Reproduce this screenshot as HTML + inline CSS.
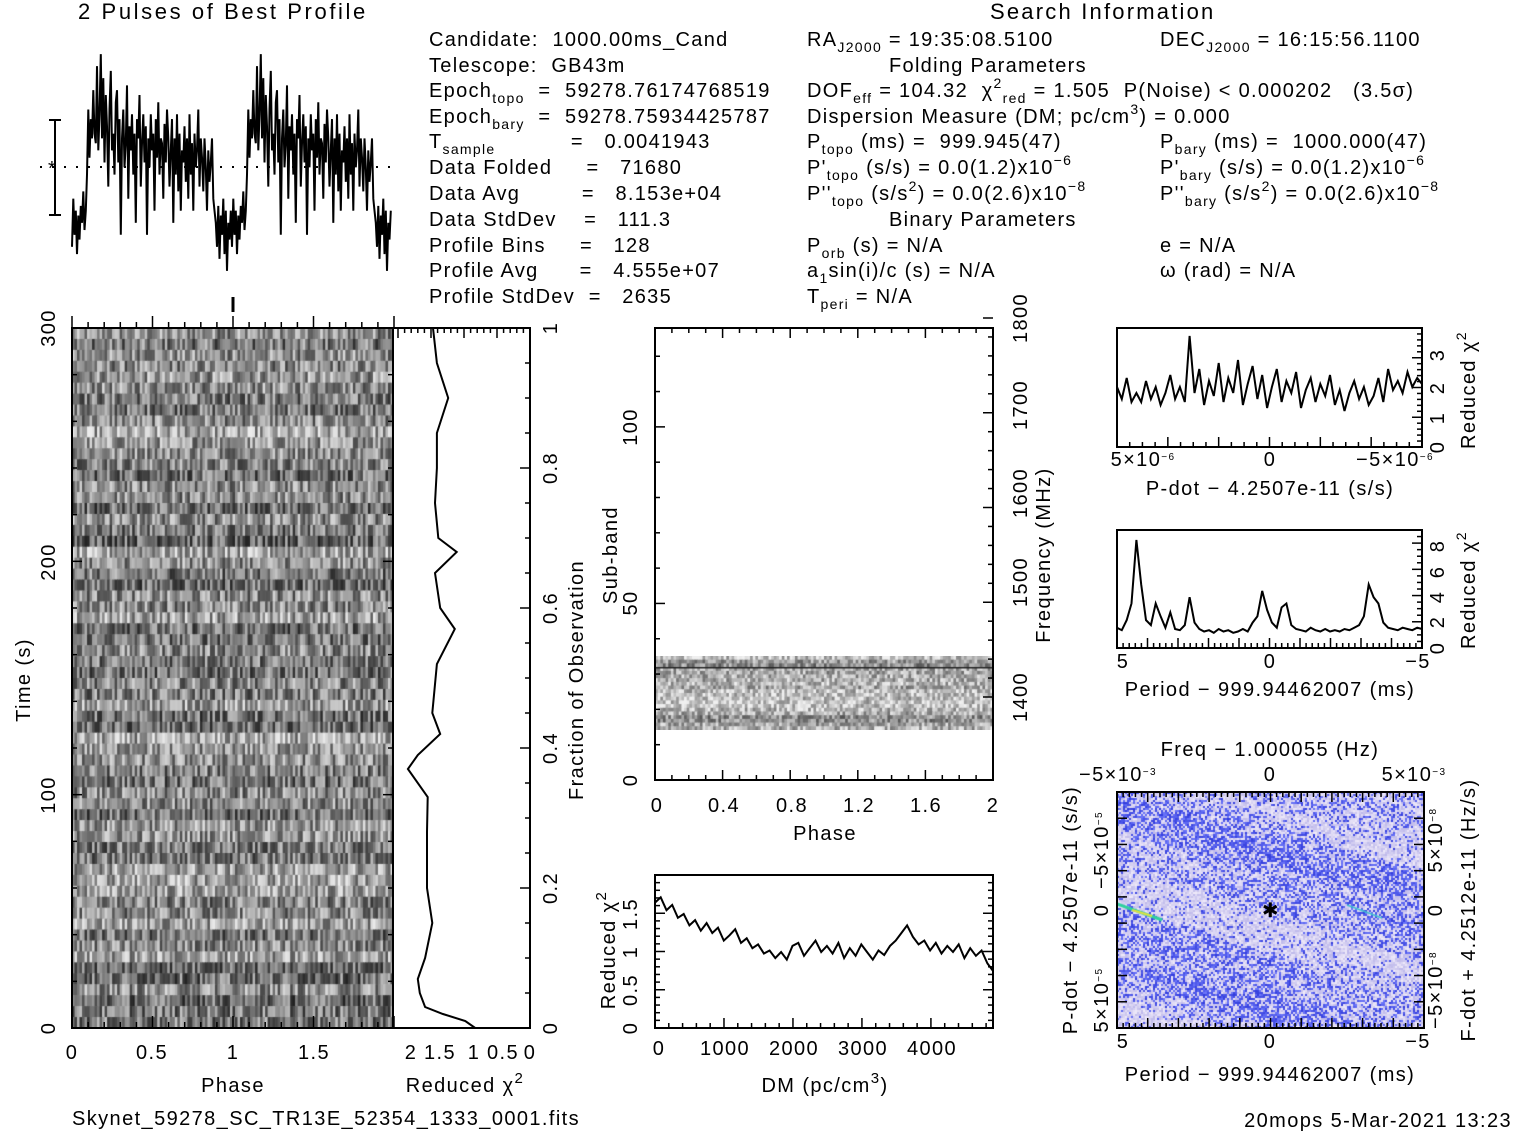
<!DOCTYPE html>
<html><head><meta charset="utf-8">
<style>
body{margin:0;background:#fff;}
#root{position:relative;width:1517px;height:1133px;overflow:hidden;background:#fff;font-family:"Liberation Sans",sans-serif;color:#000;}
.t{position:absolute;white-space:pre;font-size:20px;line-height:20px;letter-spacing:1.3px;}
.t sub{font-size:14px;vertical-align:-6px;line-height:0}
.t sup{font-size:14px;vertical-align:9px;line-height:0}
canvas{position:absolute;}
svg{position:absolute;left:0;top:0;}
svg text{font-family:"Liberation Sans",sans-serif;font-size:20px;letter-spacing:1.4px;}
</style></head><body>
<div id="root">
<canvas id="tp" width="321" height="700" style="left:72px;top:328px"></canvas>
<canvas id="sb" width="338" height="74" style="left:655px;top:656px"></canvas>
<canvas id="pp" width="307" height="236" style="left:1117px;top:792px"></canvas>

<div class="t" style="left:78px;top:2px;font-size:22px;letter-spacing:2.6px">2 Pulses of Best Profile</div>
<div class="t" style="left:990px;top:2px;font-size:22px;letter-spacing:2.2px">Search Information</div>

<div>
<div class="t" style="left:429px;top:30px">Candidate:  1000.00ms_Cand</div>
<div class="t" style="left:429px;top:56px">Telescope:  GB43m</div>
<div class="t" style="left:429px;top:81px">Epoch<sub>topo</sub>  =  59278.76174768519</div>
<div class="t" style="left:429px;top:107px">Epoch<sub>bary</sub>  =  59278.75934425787</div>
<div class="t" style="left:429px;top:132px">T<sub>sample</sub>           =   0.0041943</div>
<div class="t" style="left:429px;top:158px">Data Folded     =   71680</div>
<div class="t" style="left:429px;top:184px">Data Avg         =   8.153e+04</div>
<div class="t" style="left:429px;top:210px">Data StdDev    =   111.3</div>
<div class="t" style="left:429px;top:236px">Profile Bins     =   128</div>
<div class="t" style="left:429px;top:261px">Profile Avg      =   4.555e+07</div>
<div class="t" style="left:429px;top:287px">Profile StdDev  =   2635</div>
</div>
<div>
<div class="t" style="left:807px;top:30px">RA<sub>J2000</sub> = 19:35:08.5100</div>
<div class="t" style="left:1160px;top:30px">DEC<sub>J2000</sub> = 16:15:56.1100</div>
<div class="t" style="left:889px;top:56px">Folding Parameters</div>
<div class="t" style="left:807px;top:81px">DOF<sub>eff</sub> = 104.32  χ<sup>2</sup><sub>red</sub> = 1.505  P(Noise) &lt; 0.000202   (3.5σ)</div>
<div class="t" style="left:807px;top:107px">Dispersion Measure (DM; pc/cm<sup>3</sup>) = 0.000</div>
<div class="t" style="left:807px;top:132px">P<sub>topo</sub> (ms) =  999.945(47)</div>
<div class="t" style="left:1160px;top:132px">P<sub>bary</sub> (ms) =  1000.000(47)</div>
<div class="t" style="left:807px;top:158px">P'<sub>topo</sub> (s/s) = 0.0(1.2)x10<sup>−6</sup></div>
<div class="t" style="left:1160px;top:158px">P'<sub>bary</sub> (s/s) = 0.0(1.2)x10<sup>−6</sup></div>
<div class="t" style="left:807px;top:184px">P''<sub>topo</sub> (s/s<sup>2</sup>) = 0.0(2.6)x10<sup>−8</sup></div>
<div class="t" style="left:1160px;top:184px">P''<sub>bary</sub> (s/s<sup>2</sup>) = 0.0(2.6)x10<sup>−8</sup></div>
<div class="t" style="left:889px;top:210px">Binary Parameters</div>
<div class="t" style="left:807px;top:236px">P<sub>orb</sub> (s) = N/A</div>
<div class="t" style="left:1160px;top:236px">e = N/A</div>
<div class="t" style="left:807px;top:261px">a<sub>1</sub>sin(i)/c (s) = N/A</div>
<div class="t" style="left:1160px;top:261px">ω (rad) = N/A</div>
<div class="t" style="left:807px;top:287px">T<sub>peri</sub> = N/A</div>
</div>

<svg id="sv" width="1517" height="1133">
<g fill="none" stroke="#000" stroke-width="2">
<rect x="72" y="328" width="321" height="700"/>
<rect x="393" y="328" width="137" height="700"/>
<rect x="655" y="328" width="338" height="452"/>
<rect x="655" y="875" width="338" height="153"/>
<rect x="1117" y="328" width="305" height="119"/>
<rect x="1117" y="530" width="305" height="118"/>
<rect x="1117" y="792" width="307" height="236"/>
</g>
<g id="ticks" stroke="#000" stroke-width="1.5"></g>
<g id="lines" fill="none" stroke="#000" stroke-width="2"></g>
<g stroke="#000" stroke-width="2">
<line x1="55" y1="120" x2="55" y2="215"/><line x1="49" y1="120" x2="61" y2="120"/><line x1="49" y1="215" x2="61" y2="215"/>
<line x1="40" y1="167" x2="392" y2="167" stroke-dasharray="2,10" stroke-width="2"/>
<text x="48" y="175" stroke="none" font-size="18">*</text>
<line x1="233" y1="297" x2="233" y2="312" stroke-width="3"/>
</g>
<g id="labels" stroke="none" fill="#000">
<text x="233" y="1092" text-anchor="middle" font-size="21">Phase</text>
<text x="465" y="1092" text-anchor="middle" font-size="21">Reduced χ<tspan font-size="15" dy="-9">2</tspan></text>
<text transform="rotate(-90 30 680)" x="30" y="680" text-anchor="middle" font-size="22">Time (s)</text>
<text transform="rotate(-90 583 680)" x="583" y="680" text-anchor="middle" font-size="21">Fraction of Observation</text>
<text transform="rotate(-90 617 555)" x="617" y="555" text-anchor="middle" font-size="21">Sub-band</text>
<text transform="rotate(-90 1050 555)" x="1050" y="555" text-anchor="middle" font-size="21">Frequency (MHz)</text>
<text x="825" y="840" text-anchor="middle" font-size="21">Phase</text>
<text x="825" y="1092" text-anchor="middle" font-size="21">DM (pc/cm<tspan font-size="15" dy="-9">3</tspan><tspan dy="9">)</tspan></text>
<text transform="rotate(-90 615 950)" x="615" y="950" text-anchor="middle" font-size="21">Reduced χ<tspan font-size="15" dy="-9">2</tspan></text>
<text x="1270" y="495" text-anchor="middle" font-size="20">P-dot − 4.2507e-11 (s/s)</text>
<text transform="rotate(-90 1475 390)" x="1475" y="390" text-anchor="middle" font-size="20">Reduced χ<tspan font-size="14" dy="-9">2</tspan></text>
<text x="1270" y="696" text-anchor="middle" font-size="20">Period − 999.94462007 (ms)</text>
<text transform="rotate(-90 1475 590)" x="1475" y="590" text-anchor="middle" font-size="20">Reduced χ<tspan font-size="14" dy="-9">2</tspan></text>
<text x="1270" y="756" text-anchor="middle" font-size="20">Freq − 1.000055 (Hz)</text>
<text x="1270" y="1081" text-anchor="middle" font-size="20">Period − 999.94462007 (ms)</text>
<text transform="rotate(-90 1077 910)" x="1077" y="910" text-anchor="middle" font-size="20">P-dot − 4.2507e-11 (s/s)</text>
<text transform="rotate(-90 1475 910)" x="1475" y="910" text-anchor="middle" font-size="20">F-dot + 4.2512e-11 (Hz/s)</text>
<text x="72" y="1125" font-size="21">Skynet_59278_SC_TR13E_52354_1333_0001.fits</text>
<text x="1512" y="1127" text-anchor="end" font-size="16">20mops   5-Mar-2021 13:23</text>
</g>
</svg>
</div>
<script>
// ---------- data ----------
const profileVals=[0.15,0.35,0.2,0.3,0.12,0.28,0.18,0.32,0.25,0.38,0.22,0.3,0.45,0.72,0.52,0.68,0.6,0.8,0.62,0.58,0.9,0.55,0.7,0.95,0.6,0.85,0.5,0.78,0.65,0.4,0.72,0.88,0.55,0.62,0.45,0.75,0.8,0.5,0.68,0.2,0.6,0.72,0.48,0.58,0.82,0.35,0.65,0.55,0.7,0.45,0.62,0.25,0.68,0.6,0.78,0.4,0.58,0.7,0.5,0.65,0.2,0.6,0.48,0.7,
0.55,0.62,0.3,0.68,0.52,0.75,0.45,0.6,0.58,0.35,0.66,0.5,0.72,0.6,0.4,0.55,0.68,0.25,0.6,0.45,0.7,0.38,0.62,0.3,0.55,0.5,0.65,0.42,0.6,0.35,0.7,0.45,0.58,0.3,0.62,0.48,0.55,0.72,0.4,0.6,0.52,0.38,0.6,0.48,0.3,0.55,0.42,0.5,0.6,0.35,0.3,0.25,0.15,0.32,0.1,0.28,0.2,0.35,0.12,0.3,0.05,0.25,0.18,0.3];
const timeFrac=[1,0.95,0.9,0.85,0.8,0.75,0.7,0.68,0.65,0.6,0.57,0.52,0.45,0.42,0.39,0.37,0.33,0.28,0.2,0.15,0.1,0.07,0.05,0.03,0.02,0.01,0];
const timeChi2=[1.47,1.41,1.24,1.41,1.41,1.44,1.39,1.11,1.44,1.36,1.14,1.41,1.48,1.36,1.7,1.85,1.55,1.56,1.56,1.48,1.59,1.7,1.67,1.59,1.32,0.98,0.83];
const dmVals=[1.65,1.72,1.55,1.62,1.45,1.5,1.35,1.42,1.28,1.38,1.25,1.32,1.15,1.22,1.3,1.12,1.18,1.05,1.1,0.98,1.02,0.92,1.0,0.9,1.08,1.12,0.95,1.05,1.15,1.0,1.08,0.98,1.12,0.92,1.05,0.95,1.1,1.0,0.9,1.02,0.96,1.08,1.15,1.25,1.35,1.2,1.1,1.15,1.02,1.12,0.98,1.08,1.0,1.1,0.92,1.05,0.95,1.02,0.85,0.75];
const pdotVals=[2.0,1.6,2.3,1.5,1.8,1.5,2.2,1.6,2.0,1.4,1.8,2.4,1.6,2.0,1.5,3.7,1.8,2.6,1.4,2.2,1.7,2.8,1.5,2.3,1.8,2.9,1.4,2.1,2.7,1.6,2.4,1.3,2.0,2.6,1.5,2.2,1.8,2.5,1.3,1.9,2.3,1.5,2.1,1.7,2.4,1.4,1.9,1.2,1.8,2.2,1.6,2.0,1.4,1.7,2.3,1.5,2.6,1.9,2.2,1.8,2.5,2.0,2.3,2.1];
const periodVals=[1.6,1.4,2.2,3.5,8.5,5.0,2.2,1.8,3.5,2.5,1.6,2.8,1.5,1.4,1.8,4.0,2.0,1.5,1.3,1.4,1.2,1.5,1.3,1.4,1.2,1.3,1.5,1.3,2.0,2.5,4.5,3.0,2.0,1.6,3.2,3.5,1.8,1.5,1.4,1.3,1.6,1.4,1.3,1.5,1.3,1.4,1.3,1.5,1.4,1.6,1.8,2.5,5.0,4.0,3.5,2.0,1.6,1.5,1.4,1.6,1.5,1.4,1.6,1.5];
// ---------- helpers ----------
const NS="http://www.w3.org/2000/svg";
const T=document.getElementById('ticks'),L=document.getElementById('lines'),LB=document.getElementById('labels');
function ln(x1,y1,x2,y2){const e=document.createElementNS(NS,'line');e.setAttribute('x1',x1);e.setAttribute('y1',y1);e.setAttribute('x2',x2);e.setAttribute('y2',y2);


T.appendChild(e);}
function tx(x,y,s,rot,anchor,fs){const e=document.createElementNS(NS,'text');e.setAttribute('x',x);e.setAttribute('y',y);e.setAttribute('text-anchor',anchor||'middle');e.setAttribute('font-size',fs||20);if(rot)e.setAttribute('transform','rotate(-90 '+x+' '+y+')');e.innerHTML=s;


LB.appendChild(e);}
function xt(x0,x1,y0,y1,v0,v1,step,minor,len,dir){for(let v=v0;v<=v1+1e-9;v+=step/minor){const x=x0+(v-v0)/(v1-v0)*(x1-x0);const maj=Math.abs(Math.round((v-v0)/step)*step-(v-v0))<1e-6;const l=maj?len:len/2;ln(x,y0,x,y0+dir*l);}}
function yt(x,y0,y1,v0,v1,step,minor,len,dir){for(let v=v0;v<=v1+1e-9;v+=step/minor){const y=y0-(v-v0)/(v1-v0)*(y0-y1);const maj=Math.abs(Math.round((v-v0)/step)*step-(v-v0))<1e-6;const l=maj?len:len/2;ln(x,y,x+dir*l,y);}}
function path(pts,name){const e=document.createElementNS(NS,'polyline');e.setAttribute('points',pts.map(p=>p[0].toFixed(1)+','+p[1].toFixed(1)).join(' '));


L.appendChild(e);}
// ---------- scales ----------
const profX=i=>72+i*320/256, profY=v=>283-v*241;
const chiX=c=>530-c*66, fracY=f=>1028-f*700;
const dmX=d=>655+d*0.069, dmY=c=>1028-c*76;
const pdX=i=>1117+i*305/63, pdY=c=>447-c*30;
const peX=i=>1117+i*305/63, peY=c=>648-c*12.7;
// ---------- lines ----------
let pp=[];for(let k=0;k<2;k++)for(let i=0;i<128;i++)pp.push([profX(k*128+i),profY(profileVals[i])]);path(pp,'profile-line');
path(timeFrac.map((f,i)=>[chiX(timeChi2[i]),fracY(f)]),'chi2-vs-time-line');
path(dmVals.map((c,i)=>[dmX(i*4900/(dmVals.length-1)),dmY(c)]),'chi2-vs-dm-line');
path(pdotVals.map((c,i)=>[pdX(i),pdY(c)]),'chi2-vs-pdot-line');
path(periodVals.map((c,i)=>[peX(i),peY(c)]),'chi2-vs-period-line');
// ---------- ticks ----------
xt(72,394,328,328,0,2,0.5,5,12,-1);xt(72,394,1028,1028,0,2,0.5,5,12,-1);
yt(72,1028,328,0,300,100,5,10,1);yt(393,1028,328,0,300,100,5,10,-1);
xt(398,530,328,328,0,2,0.5,5,10,1);yt(530,1028,328,0,1,0.2,4,10,-1);
yt(655,780,328,0,128,50,5,10,1);xt(655,993,780,780,0,2,0.4,4,10,-1);xt(655,993,328,328,0,2,0.4,4,10,1);
yt(993,697,318,1400,1800,100,5,10,-1);
xt(655,993,1028,1028,0,4900,1000,5,10,-1);yt(655,1028,875,0,2,0.5,5,10,1);yt(993,1028,875,0,2,0.5,5,10,-1);
yt(1422,447,328,0,4,1,5,10,-1);xt(1117,1422,447,447,0,6,1,4,10,-1);
yt(1422,648,530,0,9,2,4,10,-1);xt(1117,1422,648,648,0,10,1,5,10,-1);
xt(1117,1424,1028,1028,0,10,1,5,10,-1);xt(1117,1424,792,792,0,10,1,5,10,1);yt(1117,1028,792,0,9,1,1,10,1);yt(1424,1028,792,0,9,1,1,10,-1);
// ---------- tick labels ----------
[[0,72],[0.5,152],[1,233],[1.5,314]].forEach(a=>tx(a[1],1059,a[0],0,'middle',21));
[['2',411],['1.5',440],['1',474],['0.5',503],['0',530]].forEach(a=>tx(a[1],1059,a[0],0,'middle',21));
[[0,1028],[100,795],[200,562],[300,328]].forEach(a=>tx(55,a[1],a[0],1,'middle',22));
[['0',1028],['0.2',888],['0.4',748],['0.6',608],['0.8',468],['1',328]].forEach(a=>tx(557,a[1],a[0],1,'middle',21));
[[0,780],[50,603],[100,427]].forEach(a=>tx(637,a[1],a[0],1,'middle',21));
[[1400,697],[1500,582],[1600,493],[1700,405],[1800,318]].forEach(a=>tx(1027,a[1],a[0],1,'middle',20));
[['0',657],['0.4',724],['0.8',792],['1.2',859],['1.6',926],['2',993]].forEach(a=>tx(a[1],812,a[0],0,'middle',21));
[[0,659],[1000,725],[2000,794],[3000,863],[4000,932]].forEach(a=>tx(a[1],1055,a[0],0,'middle',20));
[['0',1028],['0.5',990],['1',952],['1.5',914]].forEach(a=>tx(637,a[1],a[0],1,'middle',20));
tx(1143,466,'5×10<tspan font-size="10" dy="-6">−6</tspan>',0,'middle',14);tx(1270,466,'0',0,'middle',14);tx(1395,466,'−5×10<tspan font-size="10" dy="-6">−6</tspan>',0,'middle',14);
[['0',447],['1',418],['2',388],['3',355]].forEach(a=>tx(1444,a[1],a[0],1,'middle',14));
[['5',1123],['0',1270],['−5',1418]].forEach(a=>tx(a[1],668,a[0],0,'middle',16));
[['0',648],['2',622],['4',597],['6',572],['8',546]].forEach(a=>tx(1444,a[1],a[0],1,'middle',14));
[['5',1123],['0',1270],['−5',1418]].forEach(a=>tx(a[1],1048,a[0],0,'middle',16));
tx(1118,781,'−5×10<tspan font-size="10" dy="-6">−3</tspan>',0,'middle',15);tx(1270,781,'0',0,'middle',15);tx(1414,781,'5×10<tspan font-size="10" dy="-6">−3</tspan>',0,'middle',15);
tx(1108,850,'−5×10<tspan font-size="10" dy="-6">−5</tspan>',1,'middle',14);tx(1108,910,'0',1,'middle',14);tx(1108,1000,'5×10<tspan font-size="10" dy="-6">−5</tspan>',1,'middle',14);
tx(1442,840,'5×10<tspan font-size="10" dy="-6">−8</tspan>',1,'middle',14);tx(1442,910,'0',1,'middle',14);tx(1442,990,'−5×10<tspan font-size="10" dy="-6">−8</tspan>',1,'middle',14);
tx(1271,917,'✱',0,'middle',16);
// ---------- images (texture) ----------
let s=12345;function rnd(){s=(s*1103515245+12345)&0x7fffffff;return s/0x7fffffff;}
(function(){const c=document.getElementById('tp').getContext('2d');const rows=64,cols=64;const row=[];
for(let r=0;r<rows;r++){const off=(rnd()-0.5)*60-10;const cells=[];for(let k=0;k<cols;k++)cells.push(145+off+(rnd()-0.5)*150);row.push(cells);}
for(let r=0;r<rows;r++)for(let k=0;k<128;k++){let g=Math.max(20,Math.min(245,row[r][k%64]|0));c.fillStyle='rgb('+g+','+g+','+g+')';c.fillRect(k*321/128,r*700/rows,321/128+0.6,700/rows+0.6);}})();
(function(){const c=document.getElementById('sb').getContext('2d');for(let r=0;r<20;r++){const off=(rnd()-0.5)*60;for(let k=0;k<128;k++){let g=Math.max(30,Math.min(240,(170+off+(rnd()-0.5)*120)|0));c.fillStyle='rgb('+g+','+g+','+g+')';c.fillRect(k*338/128,r*74/20,338/128+0.6,74/20+0.6);}}
c.fillStyle='#222';c.fillRect(0,11,338,1.5);})();
(function(){const c=document.getElementById('pp').getContext('2d');for(let y=0;y<236;y+=2)for(let x=0;x<307;x+=2){
const u=y-x*0.35;const band=0.5*Math.sin(u*0.045+1)+0.3*Math.sin(u*0.11+x*0.01)+0.2*Math.sin(u*0.23);
const p=0.34+0.32*band;let col;
if(rnd()<p){const d=rnd();col=[(50+d*60)|0,(60+d*60)|0,(220+d*30)|0];}
else{const d=rnd();col=[(190+d*50)|0,(185+d*50)|0,(235+d*15)|0];}
c.fillStyle='rgb('+col[0]+','+col[1]+','+col[2]+')';c.fillRect(x,y,2,2);}
c.strokeStyle='#30d0a0';c.lineWidth=3;c.beginPath();c.moveTo(0,112);c.lineTo(45,128);c.stroke();c.strokeStyle='#e0e040';c.lineWidth=2;c.beginPath();c.moveTo(15,118);c.lineTo(35,124);c.stroke();
c.strokeStyle='#40c0d0';c.lineWidth=1.5;c.beginPath();c.moveTo(230,113);c.lineTo(265,126);c.stroke();})();
</script>
</body></html>
